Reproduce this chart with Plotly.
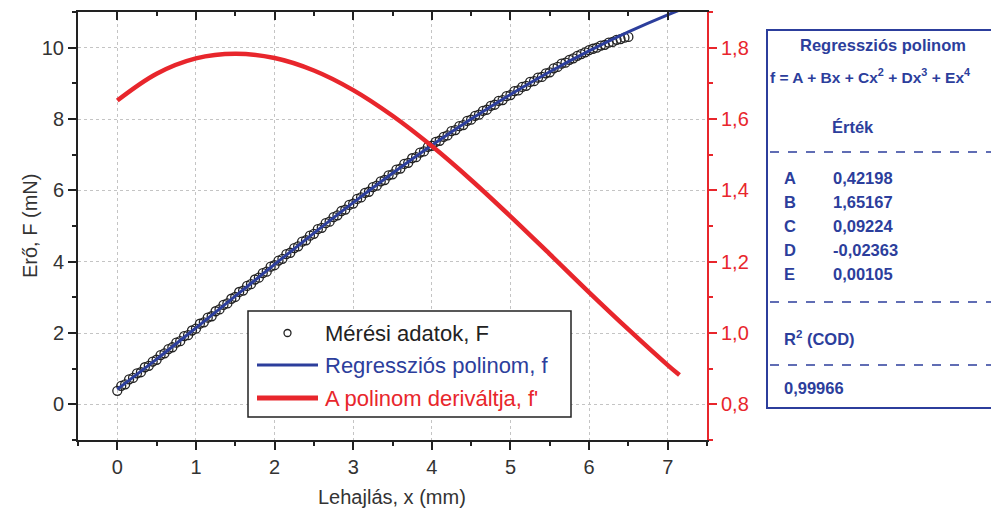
import plotly.graph_objects as go

# ---------------- data ----------------
meas_x = [round(i * 0.05, 2) for i in range(131)]
meas_y = [0.38, 0.52, 0.56, 0.70, 0.74, 0.87, 0.90, 1.04, 1.08, 1.20,
          1.25, 1.38, 1.43, 1.55, 1.60, 1.73, 1.77, 1.91, 1.94, 2.07,
          2.12, 2.26, 2.30, 2.43, 2.47, 2.61, 2.66, 2.79, 2.83, 2.96,
          3.01, 3.15, 3.19, 3.32, 3.37, 3.50, 3.55, 3.68, 3.72, 3.86,
          3.90, 4.03, 4.08, 4.21, 4.25, 4.38, 4.43, 4.56, 4.60, 4.73,
          4.78, 4.91, 4.95, 5.08, 5.12, 5.25, 5.30, 5.42, 5.46, 5.59,
          5.63, 5.76, 5.80, 5.93, 5.96, 6.09, 6.13, 6.25, 6.29, 6.42,
          6.45, 6.58, 6.61, 6.74, 6.77, 6.90, 6.93, 7.06, 7.09, 7.22,
          7.25, 7.36, 7.39, 7.50, 7.54, 7.66, 7.69, 7.80, 7.83, 7.95,
          7.98, 8.09, 8.12, 8.23, 8.26, 8.37, 8.40, 8.51, 8.53, 8.64,
          8.67, 8.78, 8.80, 8.90, 8.93, 9.04, 9.06, 9.16, 9.18, 9.28,
          9.31, 9.42, 9.46, 9.55, 9.58, 9.66, 9.70, 9.77, 9.82, 9.87,
          9.93, 9.97, 10.00, 10.06, 10.08, 10.14, 10.16, 10.22, 10.24, 10.28,
          10.30]

fit_x = [0, 0.5, 1, 1.5, 2, 2.5, 3, 3.5, 4, 4.5, 5, 5.5, 6, 6.5, 7, 7.5]
fit_y = [0.422, 1.268, 2.143, 3.033, 3.922, 4.800, 5.654, 6.477, 7.262,
         8.000, 8.688, 9.326, 9.910, 10.44, 10.92, 11.35]

der_x = [0, 0.5, 1, 1.5, 2, 2.5, 3, 3.5, 4, 4.5, 5, 5.5, 6, 6.5, 7, 7.15]
der_y = [1.652, 1.727, 1.770, 1.783, 1.771, 1.736, 1.681, 1.609, 1.524,
         1.429, 1.327, 1.221, 1.114, 1.010, 0.910, 0.882]

x_ticks = [0, 1, 2, 3, 4, 5, 6, 7]
y_ticks = [0, 2, 4, 6, 8, 10]
y2_ticks = [0.8, 1.0, 1.2, 1.4, 1.6, 1.8]
y2_labels = ["0,8", "1,0", "1,2", "1,4", "1,6", "1,8"]

legend_labels = ["Mérési adatok, F", "Regressziós polinom, f", "A polinom deriváltja, f'"]

coef_names = ["A", "B", "C", "D", "E"]
coef_vals = ["0,42198", "1,65167", "0,09224", "-0,02363", "0,00105"]
r2_val = "0,99966"

# ---------------- styling ----------------
W, H = 991, 514
L, R, T, B = 78, 284, 12, 74
PW, PH = W - L - R, H - T - B

def px(x):
    return (x - L) / PW

def py(y):
    return (H - B - y) / PH

BLUE = "#2c3e9c"
RED = "#e8262c"
TXT = "#333333"
FONT = "Liberation Sans, Arial, sans-serif"

fig = go.Figure()
fig.add_trace(go.Scatter(
    x=meas_x, y=meas_y, mode="markers", name=legend_labels[0],
    marker=dict(symbol="circle-open", size=9, color="#222222", line=dict(width=1.3)),
))
fig.add_trace(go.Scatter(
    x=fit_x, y=fit_y, mode="lines", line_shape="spline", name=legend_labels[1],
    line=dict(color=BLUE, width=3),
))
fig.add_trace(go.Scatter(
    x=der_x, y=der_y, mode="lines", line_shape="spline", yaxis="y2", name=legend_labels[2],
    line=dict(color=RED, width=4.5),
))
fig.add_trace(go.Scatter(x=[None], y=[None], xaxis="x2", showlegend=False, hoverinfo="skip"))

grid = dict(showgrid=True, gridcolor="#c4c4c4", griddash="dot", gridwidth=1)

fig.update_layout(
    width=W, height=H,
    margin=dict(l=L, r=R, t=T, b=B, autoexpand=False),
    paper_bgcolor="white", plot_bgcolor="white",
    separators=",.",
    font=dict(family=FONT, size=20, color=TXT),
    showlegend=False,
    hovermode=False,
    xaxis=dict(
        range=[-0.5, 7.5], tickvals=x_ticks, ticks="outside", ticklen=8, tickwidth=1.5,
        tickcolor="#222222", showline=True, linecolor="#222222", linewidth=2,
        zeroline=False, automargin=False,
        minor=dict(dtick=0.5, tick0=0, ticks="outside", ticklen=4, tickcolor="#222222", showgrid=False),
        tickfont=dict(size=20, color=TXT), **grid,
    ),
    xaxis2=dict(
        range=[-0.5, 7.5], overlaying="x", side="top", tickvals=x_ticks, ticks="inside",
        ticklen=8, tickwidth=1.5, tickcolor="#222222", showticklabels=False,
        showline=True, linecolor="#222222", linewidth=2, showgrid=False, zeroline=False,
        automargin=False,
        minor=dict(dtick=0.5, tick0=0, ticks="inside", ticklen=4, tickcolor="#222222"),
    ),
    yaxis=dict(
        range=[-1, 11], tickvals=y_ticks, ticks="outside", ticklen=8, tickwidth=1.5,
        tickcolor="#222222", showline=True, linecolor="#222222", linewidth=2,
        zeroline=False, automargin=False,
        minor=dict(dtick=1, tick0=0, ticks="outside", ticklen=4, tickcolor="#222222", showgrid=False),
        tickfont=dict(size=20, color=TXT), **grid,
    ),
    yaxis2=dict(
        range=[0.7, 1.9], overlaying="y", side="right", tickvals=y2_ticks, ticktext=y2_labels,
        ticks="outside", ticklen=8, tickwidth=1.5, tickcolor=RED,
        showline=True, linecolor=RED, linewidth=2, showgrid=False, zeroline=False,
        automargin=False,
        minor=dict(dtick=0.1, tick0=0.8, ticks="outside", ticklen=4, tickcolor=RED),
        tickfont=dict(size=20, color=RED),
    ),
)

def ann(x, y, text, size=16, color=BLUE, anchor="left", family=FONT, angle=0):
    fig.add_annotation(xref="paper", yref="paper", x=px(x), y=py(y), text=text,
                       showarrow=False, xanchor=anchor, yanchor="middle", textangle=angle,
                       font=dict(family=family, size=size, color=color))

# axis titles
ann(392, 497, "Lehajlás, x (mm)", 20, TXT, "center")
ann(30, 226, "Erő, F (mN)", 20, TXT, "center", angle=-90)

shapes = []
# ---------------- manual legend ----------------
shapes.append(dict(type="rect", xref="paper", yref="paper",
                   x0=px(248), x1=px(571), y0=py(417), y1=py(311),
                   line=dict(color="#222222", width=1.5), fillcolor="white", layer="above"))
shapes.append(dict(type="circle", xref="paper", yref="paper",
                   x0=px(284), x1=px(291), y0=py(336.5), y1=py(329.5),
                   line=dict(color="#222222", width=1.3), layer="above"))
shapes.append(dict(type="line", xref="paper", yref="paper",
                   x0=px(257), x1=px(318), y0=py(365), y1=py(365),
                   line=dict(color=BLUE, width=3), layer="above"))
shapes.append(dict(type="line", xref="paper", yref="paper",
                   x0=px(257), x1=px(318), y0=py(398), y1=py(398),
                   line=dict(color=RED, width=5), layer="above"))
for lab, col, yy in zip(legend_labels, ["#222222", BLUE, RED], [333, 365, 398]):
    ann(323, yy, lab, 22, col)

# ---------------- regression box ----------------
shapes.append(dict(type="rect", xref="paper", yref="paper",
                   x0=px(767), x1=px(1000), y0=py(408), y1=py(30),
                   line=dict(color=BLUE, width=2), fillcolor="rgba(0,0,0,0)"))
for yy in (152, 302, 365):
    shapes.append(dict(type="line", xref="paper", yref="paper",
                       x0=px(770), x1=px(995), y0=py(yy), y1=py(yy),
                       line=dict(color=BLUE, width=1.5, dash="dash")))
fig.update_layout(shapes=shapes)

ann(883, 45, "<b>Regressziós polinom</b>", 16.5, anchor="center")
ann(768, 76, "<b>f = A + Bx + Cx<sup>2</sup> + Dx<sup>3</sup> + Ex<sup>4</sup></b>", 15.5)
ann(830, 127, "<b>Érték</b>", 16.5)
row_y = [178, 202, 226, 250, 274]
for name, val, yy in zip(coef_names, coef_vals, row_y):
    ann(782, yy, f"<b>{name}</b>", 16.5)
    ann(831, yy, f"<b>{val}</b>", 16.5)
ann(782, 338, "<b>R<sup>2</sup> (COD)</b>", 16.5)
ann(782, 388, f"<b>{r2_val}</b>", 16.5)

# remove the browser's default 8px page margin so the figure sits at the window origin
fig.write_html("out.html", config={"displayModeBar": False},
               post_script="document.body.style.margin='0';")
